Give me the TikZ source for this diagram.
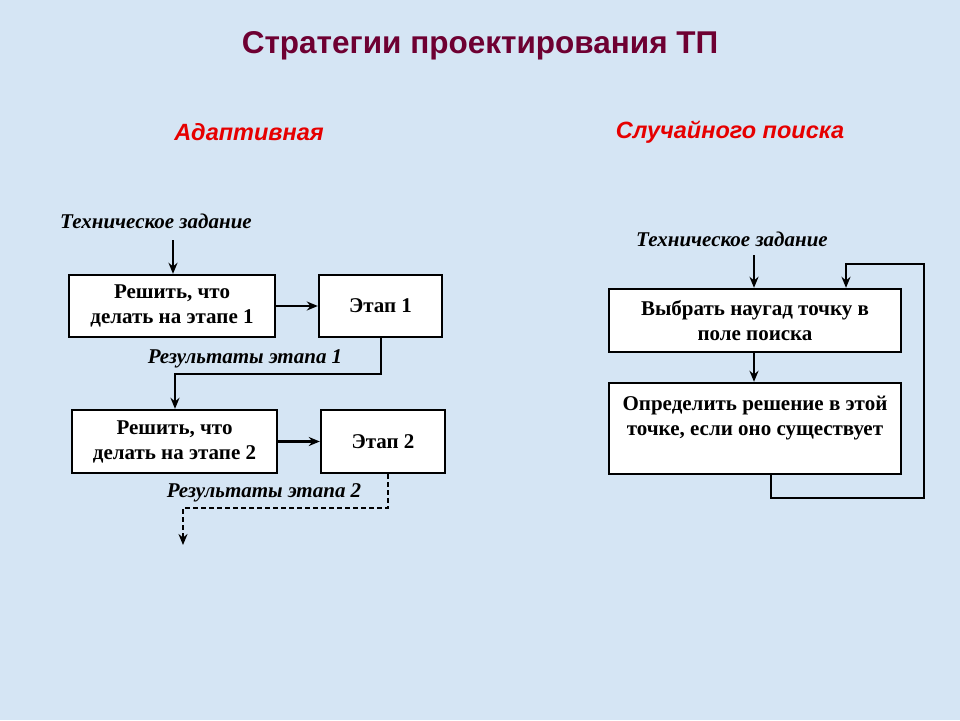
\documentclass[tikz,border=0pt]{standalone}
\usepackage{fontspec}
\setmainfont{Liberation Serif}
\newfontfamily\arialf{Liberation Sans}
\usetikzlibrary{arrows.meta,calc}
\definecolor{bgblue}{RGB}{213,229,244}
\definecolor{titlecol}{RGB}{110,0,50}
\definecolor{subred}{RGB}{230,0,0}
\begin{document}
\begin{tikzpicture}[x=1pt,y=-1pt,
  box/.style={draw=black,fill=white,line width=2.4pt,align=center,inner sep=0pt,
    font=\fontsize{21}{25}\selectfont\bfseries},
  lbl/.style={font=\fontsize{21}{24}\selectfont\bfseries\itshape,inner sep=0pt},
  sub/.style={font=\arialf\fontsize{23.5}{26}\selectfont\bfseries\itshape,text=subred,inner sep=0pt},
  arr/.style={line width=2.2pt,-{Stealth[length=11pt,width=9pt]}},
  darr/.style={line width=2.2pt,dash pattern=on 5pt off 3pt,-{Stealth[length=11pt,width=9pt]}}
]
\fill[bgblue] (0,0) rectangle (960,720);
\useasboundingbox (0,0) rectangle (960,720);

\node[font=\arialf\fontsize{31.5}{34}\selectfont\bfseries,text=titlecol] (title) at (480,46) {Стратегии проектирования ТП};
\node[sub] (adapt) at (249,132) {Адаптивная};
\node[sub] (rand) at (730,132) {Случайного поиска};

% left
\node[lbl] (tz1) at (156,221) {Техническое задание};
\node[box,minimum width=206pt,minimum height=62pt] (b1) at (172,306) {Решить, что\\делать на этапе 1};
\node[box,minimum width=123pt,minimum height=62pt] (b2) at (380.5,306) {Этап 1};
\node[box,minimum width=205pt,minimum height=63pt] (b3) at (174.5,441.5) {Решить, что\\делать на этапе 2};
\node[box,minimum width=124pt,minimum height=63pt] (b4) at (383,441.5) {Этап 2};
\node[lbl] (r1) at (245,359) {Результаты этапа 1};
\node[lbl] (r2) at (264,493) {Результаты этапа 2};
\coordinate (tz1a) at (173,240);
\coordinate (endL) at (183,545);

\draw[arr] (tz1a) -- (tz1a |- b1.north);
\draw[arr] (b1.east |- b1.center) -- (b2.west);
\draw[arr] (381,0 |- b2.south) -- (381,374) -- (175,374) -- (175,0 |- b3.north);
\draw[arr] (b3.east) -- (b4.west);
\draw[darr] (388,0 |- b4.south) -- (388,508) -- (183,508) -- (endL);

% right
\node[lbl] (tz2) at (732,239) {Техническое задание};
\node[box,minimum width=292pt,minimum height=63pt] (c1) at (755,320.5) {Выбрать наугад точку в\\поле поиска};
\node[box,minimum width=292pt,minimum height=91pt] (c2) at (755,428.5) {Определить решение в этой\\точке, если оно существует\\~};
\coordinate (tz2a) at (754,255);

\draw[arr] (tz2a) -- (tz2a |- c1.north);
\draw[arr] (754,0 |- c1.south) -- (754,0 |- c2.north);
\draw[arr] (771,0 |- c2.south) -- (771,498) -- (924,498) -- (924,264) -- (846,264) -- (846,0 |- c1.north);
\end{tikzpicture}
\end{document}
